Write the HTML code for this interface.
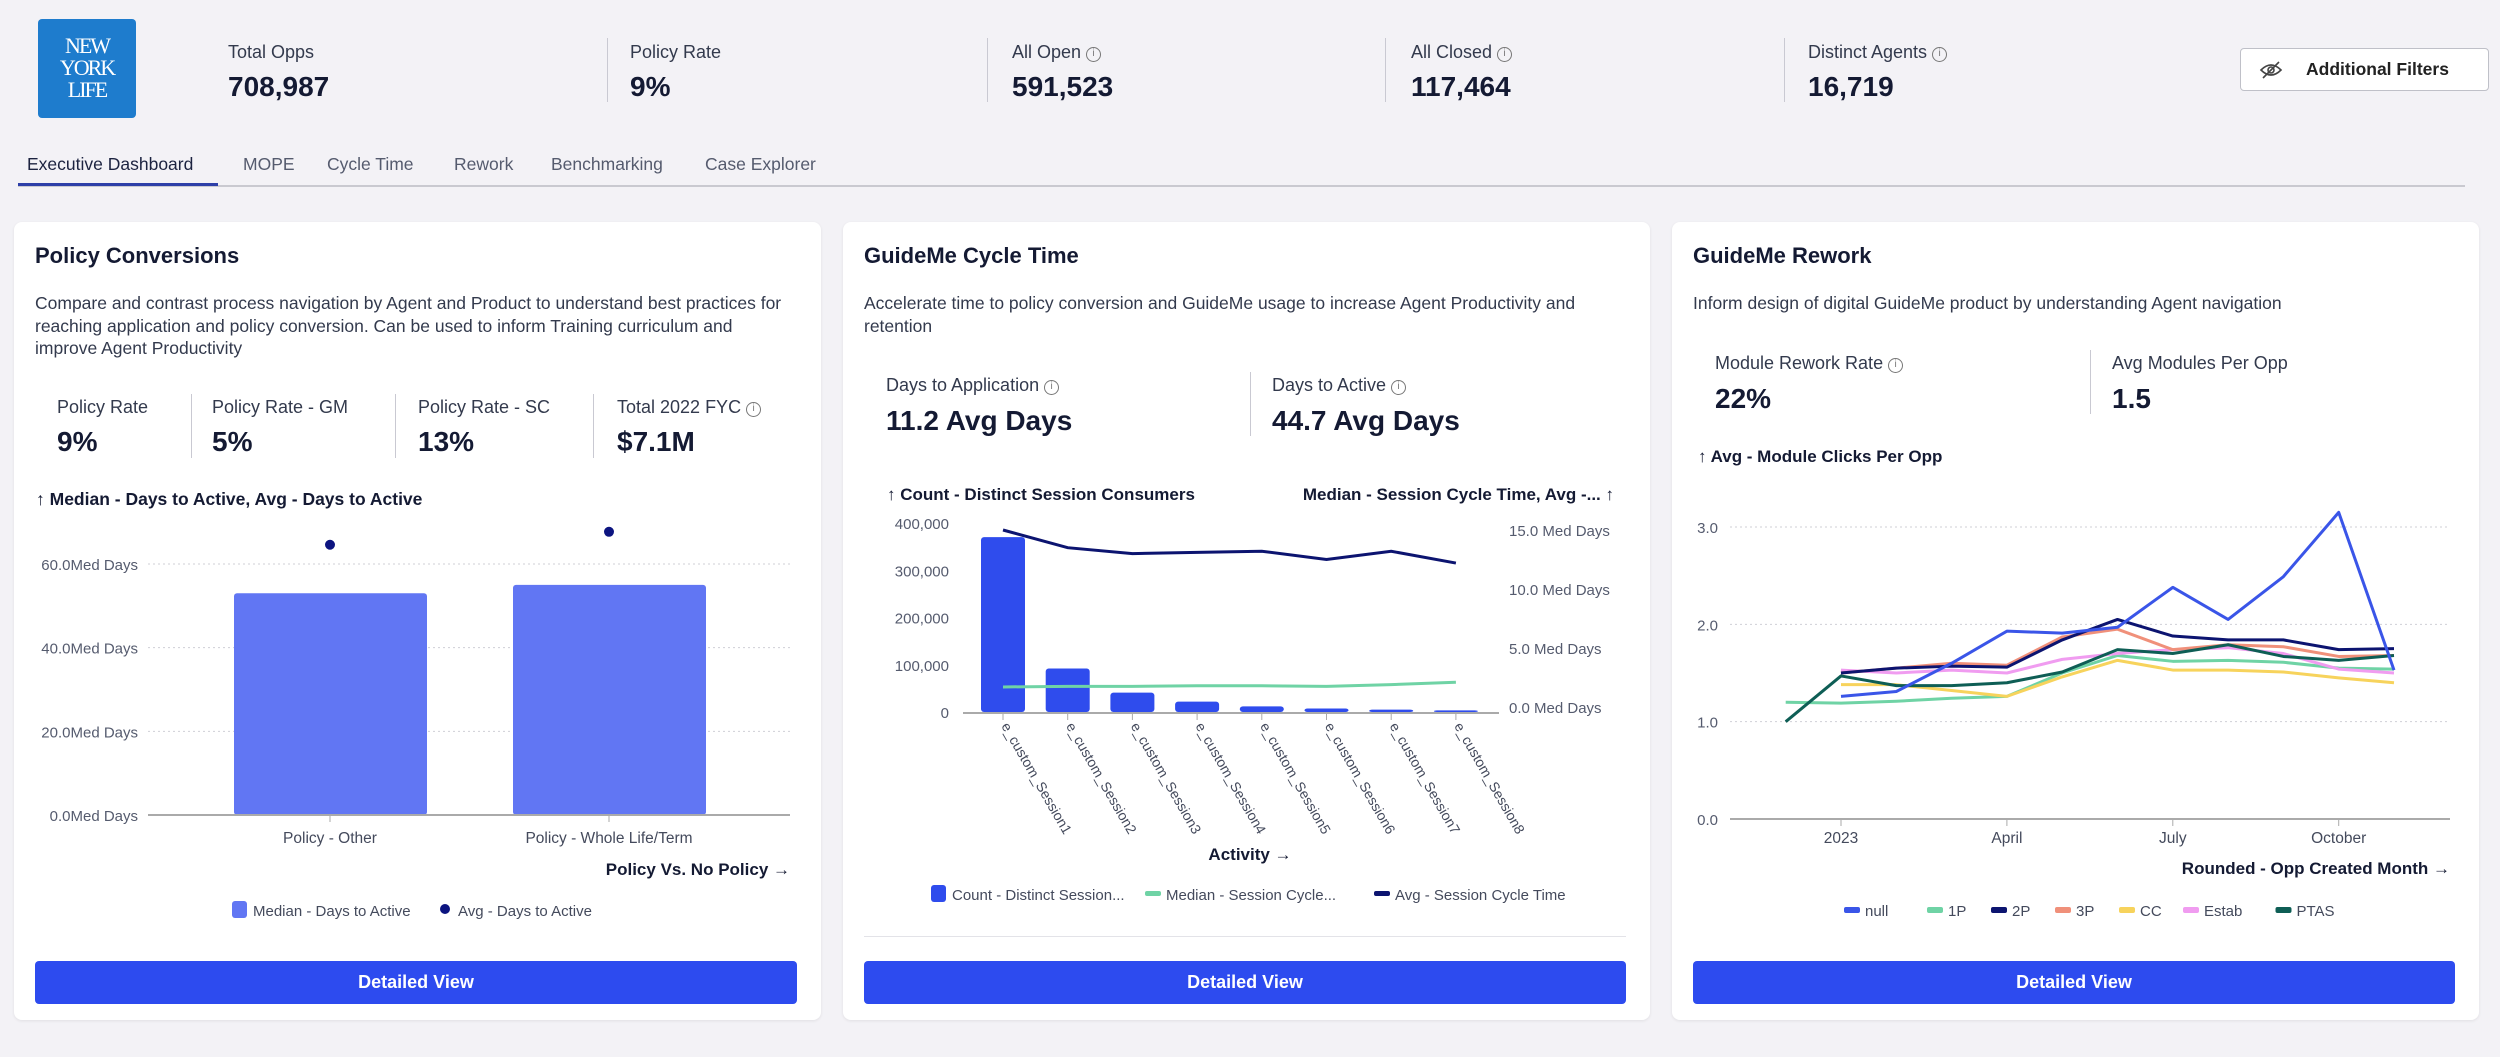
<!DOCTYPE html>
<html><head><meta charset="utf-8">
<style>
*{box-sizing:border-box;margin:0;padding:0}
body{width:2500px;height:1057px;background:#f3f2f6;font-family:"Liberation Sans",sans-serif;color:#1c2340;position:relative;overflow:hidden}
.a{position:absolute;white-space:nowrap}
.lbl{font-size:18px;color:#333a4d}
.val{font-size:28px;font-weight:bold;color:#141a33}
.vdiv{position:absolute;width:1px;background:#c9c9d2}
.card{position:absolute;top:222px;height:798px;width:807px;background:#fff;border-radius:8px;box-shadow:0 1px 3px rgba(0,0,0,.08)}
.title{font-size:22px;font-weight:bold;color:#141a33}
.desc{font-size:17.5px;color:#333a4d;line-height:22.5px;white-space:normal}
.btn{position:absolute;left:21px;width:762px;top:739px;height:43px;background:#2d4bef;border-radius:4px;color:#fff;font-size:18px;font-weight:bold;display:flex;align-items:center;justify-content:center}
.info{display:inline-block;width:15px;height:15px;border:1.5px solid #777;border-radius:50%;font-size:10px;line-height:12px;text-align:center;color:#777;vertical-align:2px;margin-left:5px}
.tab{position:absolute;top:154px;font-size:17.5px;color:#555b6e}
</style></head><body>
<div class="a" style="left:38px;top:19px;width:98px;height:99px;background:#1e7ccd;border-radius:4px;color:#fff;font-family:'Liberation Serif',serif;font-size:22px;line-height:22px;text-align:center;padding-top:16px;letter-spacing:-2px">NEW<br>YORK<br>LIFE</div>

<div class="a lbl" style="left:228px;top:42px">Total Opps</div>
<div class="a val" style="left:228px;top:71px">708,987</div>
<div class="vdiv" style="left:607px;top:38px;height:64px"></div>
<div class="a lbl" style="left:630px;top:42px">Policy Rate</div>
<div class="a val" style="left:630px;top:71px">9%</div>
<div class="vdiv" style="left:987px;top:38px;height:64px"></div>
<div class="a lbl" style="left:1012px;top:42px">All Open<span class="info">i</span></div>
<div class="a val" style="left:1012px;top:71px">591,523</div>
<div class="vdiv" style="left:1385px;top:38px;height:64px"></div>
<div class="a lbl" style="left:1411px;top:42px">All Closed<span class="info">i</span></div>
<div class="a val" style="left:1411px;top:71px">117,464</div>
<div class="vdiv" style="left:1784px;top:38px;height:64px"></div>
<div class="a lbl" style="left:1808px;top:42px">Distinct Agents<span class="info">i</span></div>
<div class="a val" style="left:1808px;top:71px">16,719</div>
<div class="a" style="left:2240px;top:48px;width:249px;height:43px;border:1px solid #bfc0c8;border-radius:4px;background:#fff;font-size:17.5px;font-weight:bold;color:#222;display:flex;align-items:center;padding-left:65px">
<svg width="24" height="20" style="position:absolute;left:18px;top:11px" viewBox="0 0 24 20"><path d="M2 10 Q12 0 22 10 Q12 20 2 10Z" fill="none" stroke="#444" stroke-width="1.6"/><circle cx="12" cy="10" r="3" fill="none" stroke="#444" stroke-width="1.6"/><line x1="4" y1="18" x2="20" y2="2" stroke="#444" stroke-width="1.6"/></svg>Additional Filters</div>

<div class="tab" style="left:27px;color:#1c2340">Executive Dashboard</div>
<div class="tab" style="left:243px">MOPE</div>
<div class="tab" style="left:327px">Cycle Time</div>
<div class="tab" style="left:454px">Rework</div>
<div class="tab" style="left:551px">Benchmarking</div>
<div class="tab" style="left:705px">Case Explorer</div>
<div class="a" style="left:18px;top:185px;width:2447px;height:2px;background:#c9c9d0"></div>
<div class="a" style="left:18px;top:183px;width:200px;height:3px;background:#2d3fa8"></div>

<div class="card" style="left:14px">
 <div class="a title" style="left:21px;top:21px">Policy Conversions</div>
 <div class="a desc" style="left:21px;top:70px;width:760px">Compare and contrast process navigation by Agent and Product to understand best practices for reaching application and policy conversion. Can be used to inform Training curriculum and improve Agent Productivity</div>
 <div class="a lbl" style="left:43px;top:175px">Policy Rate</div><div class="a val" style="left:43px;top:204px">9%</div>
 <div class="vdiv" style="left:177px;top:172px;height:64px"></div>
 <div class="a lbl" style="left:198px;top:175px">Policy Rate - GM</div><div class="a val" style="left:198px;top:204px">5%</div>
 <div class="vdiv" style="left:381px;top:172px;height:64px"></div>
 <div class="a lbl" style="left:404px;top:175px">Policy Rate - SC</div><div class="a val" style="left:404px;top:204px">13%</div>
 <div class="vdiv" style="left:579px;top:172px;height:64px"></div>
 <div class="a lbl" style="left:603px;top:175px">Total 2022 FYC<span class="info">i</span></div><div class="a val" style="left:603px;top:204px">$7.1M</div>
 <div class="btn">Detailed View</div>
</div>
<div class="card" style="left:843px">
 <div class="a title" style="left:21px;top:21px">GuideMe Cycle Time</div>
 <div class="a desc" style="left:21px;top:70px;width:760px">Accelerate time to policy conversion and GuideMe usage to increase Agent Productivity and retention</div>
 <div class="a lbl" style="left:43px;top:153px">Days to Application<span class="info">i</span></div><div class="a val" style="left:43px;top:183px">11.2 Avg Days</div>
 <div class="vdiv" style="left:407px;top:150px;height:64px"></div>
 <div class="a lbl" style="left:429px;top:153px">Days to Active<span class="info">i</span></div><div class="a val" style="left:429px;top:183px">44.7 Avg Days</div>
 <div class="a" style="left:21px;top:714px;width:762px;height:1px;background:#e3e3e8"></div>
 <div class="btn">Detailed View</div>
</div>
<div class="card" style="left:1672px">
 <div class="a title" style="left:21px;top:21px">GuideMe Rework</div>
 <div class="a desc" style="left:21px;top:70px;width:760px">Inform design of digital GuideMe product by understanding Agent navigation</div>
 <div class="a lbl" style="left:43px;top:131px">Module Rework Rate<span class="info">i</span></div><div class="a val" style="left:43px;top:161px">22%</div>
 <div class="vdiv" style="left:418px;top:128px;height:64px"></div>
 <div class="a lbl" style="left:440px;top:131px">Avg Modules Per Opp</div><div class="a val" style="left:440px;top:161px">1.5</div>
 <div class="btn">Detailed View</div>
</div>

<svg id="charts" class="a" style="left:0;top:0" width="2500" height="1057" font-family="Liberation Sans, sans-serif"></svg>

<script>
// Chart 1
const c1Cats=["Policy - Other","Policy - Whole Life/Term"];
const c1Median=[53,55];
const c1Avg=[64.6,67.7];
const c1Ticks=[0,20,40,60];
// Chart 2
const c2Cats=["e_custom_Session1","e_custom_Session2","e_custom_Session3","e_custom_Session4","e_custom_Session5","e_custom_Session6","e_custom_Session7","e_custom_Session8"];
const c2Count=[370000,92000,41000,22000,12000,7500,5000,3500];
const c2Median=[1.7,1.75,1.75,1.8,1.8,1.75,1.9,2.1];
const c2Avg=[15.0,13.5,13.0,13.1,13.2,12.5,13.2,12.2];
const c2LeftTicks=[0,100000,200000,300000,400000];
const c2RightTicks=[0,5,10,15];
// Chart 3 (month index: -1 = Dec 2022 ... 10 = Nov 2023)
const c3Months=[-1,0,1,2,3,4,5,6,7,8,9,10];
const c3Null=[null,1.26,1.31,1.6,1.93,1.91,1.97,2.38,2.05,2.49,3.15,1.53];
const c3P1=[1.2,1.19,1.21,1.24,1.26,1.5,1.68,1.62,1.63,1.61,1.55,1.54];
const c3P2=[null,1.5,1.55,1.57,1.56,1.84,2.05,1.88,1.84,1.84,1.74,1.75];
const c3P3=[null,1.5,1.55,1.6,1.58,1.87,1.95,1.74,1.79,1.77,1.67,1.68];
const c3CC=[null,1.38,1.38,1.32,1.26,1.46,1.63,1.53,1.53,1.51,1.45,1.4];
const c3Estab=[null,1.53,1.5,1.53,1.5,1.64,1.7,1.74,1.76,1.7,1.54,1.5];
const c3PTAS=[1.0,1.47,1.37,1.37,1.4,1.51,1.74,1.7,1.79,1.67,1.63,1.68];
const c3Ticks=[0,1,2,3];
const c3XLabels=["2023","April","July","October"];
const c3XIdx=[0,3,6,9];
const c3Names=["null","1P","2P","3P","CC","Estab","PTAS"];

const NS="http://www.w3.org/2000/svg";
const svg=document.getElementById('charts');
function el(tag,attrs,parent,text){const e=document.createElementNS(NS,tag);for(const k in attrs)e.setAttribute(k,attrs[k]);if(text!==undefined)e.textContent=text;(parent||svg).appendChild(e);return e;}
function txt(x,y,s,size,fill,anchor,weight,name){const t=el('text',{x:x,y:y,'font-size':size,fill:fill,'text-anchor':anchor||'start','font-weight':weight||'normal'},null,s);

return t;}

// ---- Chart 1
(function(){
const y=v=>815-v*(815-564)/60;
const xc=i=>[330,609][i];
txt(36,505,"↑ Median - Days to Active, Avg - Days to Active",17.5,"#141a33","start","bold","chart1-title");
c1Ticks.forEach(t=>{const yy=y(t);
 if(t>0)el('line',{x1:148,x2:790,y1:yy,y2:yy,stroke:'#cfcfd6','stroke-dasharray':'2,3'});
 txt(138,yy+6,t.toFixed(1)+"Med Days",15,"#555b6e","end",null,"chart1-y-tick");});
c1Median.forEach((v,i)=>{const r=el('rect',{x:xc(i)-96,y:y(v),width:193,height:y(0)-y(v),fill:'#6176f3',rx:3});
 
 });
el('line',{x1:148,x2:790,y1:815,y2:815,stroke:'#aaa','stroke-width':2});
c1Cats.forEach((c,i)=>{el('line',{x1:xc(i),x2:xc(i),y1:815,y2:822,stroke:'#aaa'});txt(xc(i),843,c,15.5,"#444a5c","middle",null,"chart1-x-tick");});
c1Avg.forEach((v,i)=>{const d=el('circle',{cx:xc(i),cy:y(v),r:5,fill:'#0c1480'});
 
 });
txt(790,875,"Policy Vs. No Policy →",17,"#141a33","end","bold","chart1-x-axis-title");
el('rect',{x:232,y:901,width:15,height:17,rx:3,fill:'#6176f3'});
txt(253,916,"Median - Days to Active",15,"#444a5c","start",null,"legend-median");
el('circle',{cx:445,cy:909,r:5,fill:'#0c1480'});
txt(458,916,"Avg - Days to Active",15,"#444a5c","start",null,"legend-avg");
})();

// ---- Chart 2
(function(){
const yl=v=>712-v*(712-523)/400000;
const yr=v=>707-v*(707-530)/15;
const xc=i=>1003+i*64.7;
txt(887,500,"↑ Count - Distinct Session Consumers",17,"#141a33","start","bold","chart2-left-title");
txt(1614,500,"Median - Session Cycle Time, Avg -... ↑",17,"#141a33","end","bold","chart2-right-title");
c2LeftTicks.forEach(t=>txt(949,yl(t)+6,t.toLocaleString('en-US'),15,"#555b6e","end",null,"chart2-left-tick"));
c2RightTicks.forEach(t=>txt(1509,yr(t)+6,t.toFixed(1)+" Med Days",15,"#555b6e","start",null,"chart2-right-tick"));
c2Count.forEach((v,i)=>{const r=el('rect',{x:xc(i)-22,y:yl(v),width:44,height:Math.max(1,712-yl(v)),fill:'#2f4ced',rx:3});
 
 });
el('line',{x1:963,x2:1499,y1:713,y2:713,stroke:'#aaa','stroke-width':2});
c2Cats.forEach((c,i)=>{el('line',{x1:xc(i),x2:xc(i),y1:713,y2:720,stroke:'#aaa'});
 const t=txt(xc(i)-2,726,c,14,"#444a5c","start",null,"chart2-x-tick");t.setAttribute('transform','rotate(60 '+(xc(i)-2)+' 726)');});
const pl=(arr,col,w,name)=>{const p=el('polyline',{points:arr.map((v,i)=>xc(i)+','+yr(v)).join(' '),fill:'none',stroke:col,'stroke-width':w});
 
 };
pl(c2Median,'#6fd3a5',3,'line-median-cycle');
pl(c2Avg,'#0c1470',3,'line-avg-cycle');
txt(1250,860,"Activity →",17,"#141a33","middle","bold","chart2-x-axis-title");
el('rect',{x:931,y:885,width:15,height:17,rx:3,fill:'#2f4ced'});
txt(952,900,"Count - Distinct Session...",15,"#444a5c","start",null,"legend-count");
el('rect',{x:1145,y:891,width:16,height:5,rx:2,fill:'#6fd3a5'});
txt(1166,900,"Median - Session Cycle...",15,"#444a5c","start",null,"legend-median-cycle");
el('rect',{x:1374,y:891,width:16,height:5,rx:2,fill:'#0c1470'});
txt(1395,900,"Avg - Session Cycle Time",15,"#444a5c","start",null,"legend-avg-cycle");
})();

// ---- Chart 3
(function(){
const y=v=>819-v*(819-527)/3;
const x=m=>1841+m*55.3;
txt(1698,462,"↑ Avg - Module Clicks Per Opp",17,"#141a33","start","bold","chart3-title");
c3Ticks.forEach(t=>{const yy=y(t);
 if(t>0)el('line',{x1:1730,x2:2450,y1:yy,y2:yy,stroke:'#cfcfd6','stroke-dasharray':'2,3'});
 txt(1718,yy+6,t.toFixed(1),15,"#555b6e","end",null,"chart3-y-tick");});
el('line',{x1:1730,x2:2450,y1:819,y2:819,stroke:'#aaa','stroke-width':2});
c3XIdx.forEach((m,i)=>{el('line',{x1:x(m),x2:x(m),y1:819,y2:826,stroke:'#aaa'});txt(x(m),843,c3XLabels[i],15.5,"#444a5c","middle",null,"chart3-x-tick");});
const series=[c3Null,c3P1,c3P2,c3P3,c3CC,c3Estab,c3PTAS];
const cols=['#3a55e8','#6fd3a5','#0c1470','#f0907a','#f7d35c','#f09cf0','#0e5e55'];
const order=[1,4,5,3,6,2,0];
order.forEach(si=>{const pts=[];series[si].forEach((v,i)=>{if(v!==null)pts.push(x(c3Months[i])+','+y(v));});
 const p=el('polyline',{points:pts.join(' '),fill:'none',stroke:cols[si],'stroke-width':3,'stroke-linejoin':'round'});
 
 });
txt(2450,874,"Rounded - Opp Created Month →",17,"#141a33","end","bold","chart3-x-axis-title");
let lx=1844;
c3Names.forEach((n,i)=>{el('rect',{x:lx,y:907,width:16,height:6,rx:2,fill:cols[i]});
 txt(lx+21,916,n,15,"#444a5c","start",null,"legend-"+n.toLowerCase());
 lx+=21+n.length*9.5+24;});
})();
</script>
</body></html>
